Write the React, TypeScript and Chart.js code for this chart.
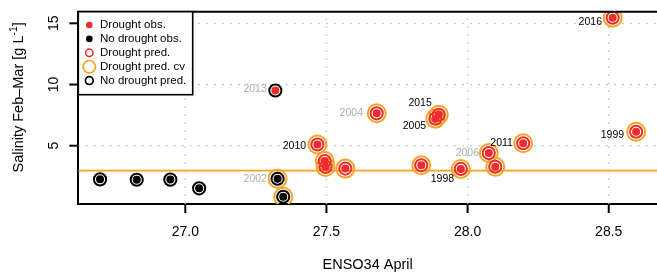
import React, { useEffect, useRef } from 'react';
import { Chart, registerables } from 'chart.js';

Chart.register(...registerables);

const FONT = '"Liberation Sans", Arial, Helvetica, sans-serif';

// ---- data ----
const ensoApril = [26.698, 26.828, 26.947, 27.049, 27.327, 27.347, 27.319, 27.468, 27.494, 27.497, 27.567, 27.678, 27.836, 27.886, 27.898, 27.976, 28.075, 28.098, 28.197, 28.514, 28.597];
const salinity = [2.25, 2.22, 2.23, 1.52, 2.30, 0.83, 9.51, 5.10, 3.75, 3.26, 3.13, 7.65, 3.40, 7.21, 7.53, 3.10, 4.40, 3.28, 5.20, 15.46, 6.14];
const yearLabels = ['', '', '', '', '2002', '', '2013', '2010', '', '', '', '2004', '', '2005', '2015', '1998', '2006', '', '2011', '2016', '1999'];
const droughtObs = [0, 0, 0, 0, 0, 0, 1, 1, 1, 1, 1, 1, 1, 1, 1, 1, 1, 1, 1, 1, 1];
const droughtPred = [0, 0, 0, 0, 0, 0, 0, 1, 1, 1, 1, 1, 1, 1, 1, 1, 1, 1, 1, 1, 1];
const droughtPredCv = [0, 0, 0, 0, 1, 1, 0, 1, 1, 1, 1, 1, 1, 1, 1, 1, 1, 1, 1, 1, 1];
const droughtThreshold = 2.96;

const xLimits = [26.621, 28.671];
const yLimits = [0.237, 15.95];
const xStep = 0.5;
const yStep = 5;

const legendLabels = ['Drought obs.', 'No drought obs.', 'Drought pred.', 'Drought pred. cv', 'No drought pred.'];
const xTitle = 'ENSO34 April';
const yTitleMain = 'Salinity Feb\u2013Mar [g L';
const yTitleSup = '-1';
const yTitleEnd = ']';

// ---- styles ----
const RED = '#EF2B2B';
const ORANGE = '#F7A325';
const BLACK = '#000000';
const GRAY = '#ADADAD';
const GRID = '#BDBDBD';
const grayYears = ['2002', '2004', '2006', '2013'];
const labelOffsets: Record<string, [number, number]> = {
  '2013': [-8.6, -1.2],
  '2016': [-10.7, 4],
  '1999': [-12, 3],
  '2011': [-10.3, -0.6],
  '2006': [-9.7, 0],
  '1998': [-6.7, 10.3],
  '2015': [-7, -11.4],
  '2005': [-9.3, 7],
  '2010': [-11.3, 1.3],
  '2004': [-13.7, 0],
  '2002': [-10.7, 0],
};

const points = ensoApril.map((x, i) => ({ x, y: salinity[i] }));
const pick = (f: (i: number) => boolean) => points.filter((_, i) => f(i));

const decorPlugin = {
  id: 'decor',
  beforeDatasetsDraw(chart: any) {
    const { ctx, chartArea: a, scales } = chart;
    const xs = scales.x;
    const ys = scales.y;
    ctx.save();
    ctx.strokeStyle = GRID;
    ctx.lineWidth = 1.3;
    ctx.setLineDash([1.5, 6.5]);
    xs.ticks.forEach((t: any) => {
      const px = xs.getPixelForValue(t.value);
      ctx.beginPath();
      ctx.moveTo(px, a.bottom);
      ctx.lineTo(px, a.top);
      ctx.stroke();
    });
    ys.ticks.forEach((t: any) => {
      const py = ys.getPixelForValue(t.value);
      ctx.beginPath();
      ctx.moveTo(a.left, py);
      ctx.lineTo(a.right, py);
      ctx.stroke();
    });
    ctx.restore();
  },
  afterDatasetsDraw(chart: any) {
    const { ctx, scales } = chart;
    ctx.save();
    ctx.font = `10.5px ${FONT}`;
    ctx.textAlign = 'right';
    ctx.textBaseline = 'middle';
    yearLabels.forEach((lab, i) => {
      if (!lab) return;
      const px = scales.x.getPixelForValue(ensoApril[i]);
      const py = scales.y.getPixelForValue(salinity[i]);
      const off = labelOffsets[lab] || [-11, 0];
      ctx.fillStyle = grayYears.includes(lab) ? GRAY : BLACK;
      ctx.fillText(lab, px + off[0], py + off[1]);
    });
    ctx.restore();
  },
  afterDraw(chart: any) {
    const { ctx, chartArea: a, scales } = chart;
    const xs = scales.x;
    const ys = scales.y;
    ctx.save();
    ctx.strokeStyle = BLACK;
    ctx.lineWidth = 2;
    // top border
    ctx.beginPath();
    ctx.moveTo(a.left - 1, a.top);
    ctx.lineTo(a.right, a.top);
    ctx.stroke();
    // tick marks
    xs.ticks.forEach((t: any) => {
      const px = xs.getPixelForValue(t.value);
      ctx.beginPath();
      ctx.moveTo(px, a.bottom);
      ctx.lineTo(px, a.bottom + 9);
      ctx.stroke();
    });
    ys.ticks.forEach((t: any) => {
      const py = ys.getPixelForValue(t.value);
      ctx.beginPath();
      ctx.moveTo(a.left, py);
      ctx.lineTo(a.left - 9, py);
      ctx.stroke();
    });
    // y tick labels (rotated)
    ctx.fillStyle = BLACK;
    ctx.font = `14px ${FONT}`;
    ctx.textAlign = 'center';
    ctx.textBaseline = 'middle';
    ys.ticks.forEach((t: any) => {
      const py = ys.getPixelForValue(t.value);
      ctx.save();
      ctx.translate(54, py);
      ctx.rotate(-Math.PI / 2);
      ctx.fillText(String(t.value), 0, 0);
      ctx.restore();
    });
    // y title with superscript
    ctx.save();
    const cy = (a.top + a.bottom) / 2 - 10.5;
    ctx.translate(19, cy);
    ctx.rotate(-Math.PI / 2);
    ctx.textAlign = 'left';
    ctx.textBaseline = 'middle';
    const mainFont = `14.5px ${FONT}`;
    const supFont = `10.5px ${FONT}`;
    ctx.font = mainFont;
    const w1 = ctx.measureText(yTitleMain).width;
    const w3 = ctx.measureText(yTitleEnd).width;
    ctx.font = supFont;
    const w2 = ctx.measureText(yTitleSup).width;
    const total = w1 + w2 + w3;
    const x0 = -total / 2;
    ctx.font = mainFont;
    ctx.fillText(yTitleMain, x0, 0);
    ctx.font = supFont;
    ctx.fillText(yTitleSup, x0 + w1, -5);
    ctx.font = mainFont;
    ctx.fillText(yTitleEnd, x0 + w1 + w2, 0);
    ctx.restore();

    // legend
    const bx = a.left;
    const by = a.top;
    const bw = 114.4;
    const bh = 83;
    ctx.fillStyle = '#FFFFFF';
    ctx.fillRect(bx, by, bw, bh);
    ctx.lineWidth = 1.6;
    ctx.strokeStyle = BLACK;
    ctx.strokeRect(bx, by, bw, bh);
    const rowY = (k: number) => by + 13.3 + k * 13.9;
    const sx = bx + 11;
    ctx.fillStyle = RED;
    ctx.beginPath();
    ctx.arc(sx, rowY(0), 3.3, 0, Math.PI * 2);
    ctx.fill();
    ctx.fillStyle = BLACK;
    ctx.beginPath();
    ctx.arc(sx, rowY(1), 3.3, 0, Math.PI * 2);
    ctx.fill();
    ctx.lineWidth = 1.5;
    ctx.strokeStyle = RED;
    ctx.beginPath();
    ctx.arc(sx, rowY(2), 3.7, 0, Math.PI * 2);
    ctx.stroke();
    ctx.lineWidth = 1.7;
    ctx.strokeStyle = ORANGE;
    ctx.beginPath();
    ctx.arc(sx, rowY(3), 6.2, 0, Math.PI * 2);
    ctx.stroke();
    ctx.lineWidth = 1.7;
    ctx.strokeStyle = BLACK;
    ctx.beginPath();
    ctx.arc(sx, rowY(4), 3.9, 0, Math.PI * 2);
    ctx.stroke();
    ctx.fillStyle = BLACK;
    ctx.font = `11.5px ${FONT}`;
    ctx.textAlign = 'left';
    ctx.textBaseline = 'middle';
    legendLabels.forEach((l, k) => ctx.fillText(l, bx + 21.7, rowY(k)));
    ctx.restore();
  },
};

export default function App() {
  const ref = useRef<HTMLCanvasElement | null>(null);
  useEffect(() => {
    document.body.style.margin = '0';
    const canvas = ref.current;
    if (!canvas) return;
    const ringData = (r: number, w: number, color: string, data: any[], order: number) => ({
      data,
      pointRadius: r,
      pointBorderWidth: w,
      pointBorderColor: color,
      pointBackgroundColor: 'rgba(0,0,0,0)',
      showLine: false,
      order,
    });
    const dotData = (r: number, color: string, data: any[], order: number) => ({
      data,
      pointRadius: r,
      pointBorderWidth: 0,
      pointBorderColor: color,
      pointBackgroundColor: color,
      showLine: false,
      order,
    });
    const chart = new Chart(canvas, {
      type: 'scatter',
      data: {
        datasets: [
          dotData(4, RED, pick((i) => droughtObs[i] === 1), 1),
          dotData(4, BLACK, pick((i) => droughtObs[i] === 0), 1),
          ringData(6.1, 2, RED, pick((i) => droughtPred[i] === 1), 2),
          ringData(6.1, 2, BLACK, pick((i) => droughtPred[i] === 0), 2),
          ringData(9, 2, ORANGE, pick((i) => droughtPredCv[i] === 1), 3),
          {
            data: [
              { x: xLimits[0], y: droughtThreshold },
              { x: xLimits[1], y: droughtThreshold },
            ],
            showLine: true,
            borderColor: ORANGE,
            borderWidth: 1.7,
            pointRadius: 0,
            order: 10,
          } as any,
        ],
      },
      options: {
        animation: false,
        responsive: false,
        events: [],
        layout: { autoPadding: false, padding: { top: 11.7, left: 0, right: 0, bottom: 0 } },
        plugins: { legend: { display: false }, tooltip: { enabled: false } },
        scales: {
          x: {
            type: 'linear',
            min: xLimits[0],
            max: xLimits[1],
            afterFit: (s: any) => {
              s.height = 70;
              s.paddingLeft = 0;
              s.paddingRight = 0;
            },
            grid: { display: false, drawTicks: false },
            border: { display: true, color: BLACK, width: 2 },
            ticks: {
              stepSize: xStep,
              includeBounds: false,
              color: BLACK,
              font: { family: FONT, size: 14 },
              padding: 20,
              callback: (v: any) => Number(v).toFixed(1),
            },
            title: {
              display: true,
              text: xTitle,
              color: BLACK,
              font: { family: FONT, size: 14.5 },
              padding: { top: 0, bottom: 0 },
            },
          },
          y: {
            type: 'linear',
            min: yLimits[0],
            max: yLimits[1],
            afterFit: (s: any) => {
              s.width = 78.3;
              s.paddingTop = 0;
              s.paddingBottom = 0;
            },
            grid: { display: false, drawTicks: false },
            border: { display: true, color: BLACK, width: 2 },
            ticks: { stepSize: yStep, includeBounds: false, display: false },
          },
        },
      } as any,
      plugins: [decorPlugin],
    });
    return () => chart.destroy();
  }, []);
  return <canvas ref={ref} width={657} height={274} style={{ display: 'block' }} />;
}
